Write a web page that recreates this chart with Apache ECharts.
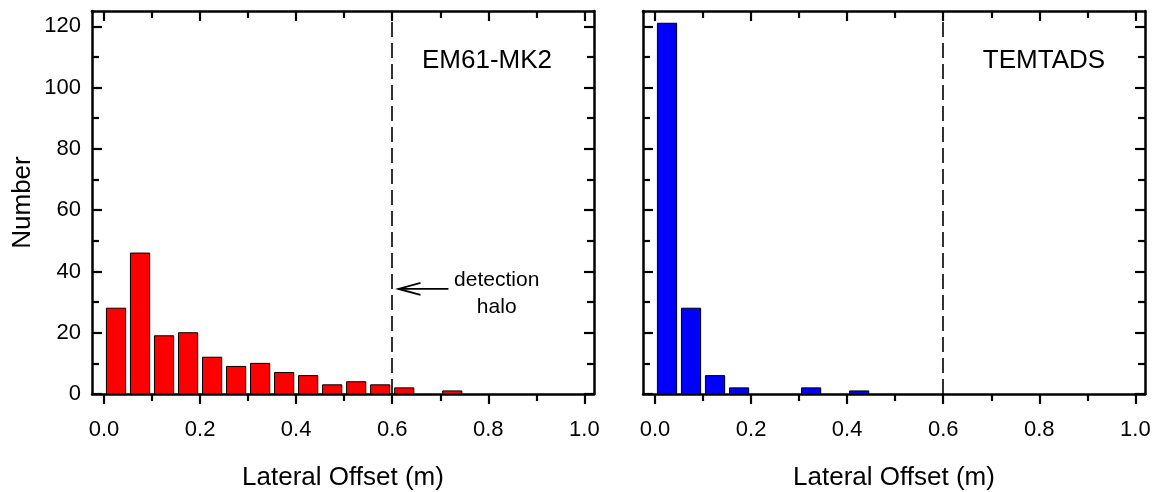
<!DOCTYPE html>
<html>
<head>
<meta charset="utf-8">
<script src="https://cdn.jsdelivr.net/npm/echarts@6/dist/echarts.min.js"></script>
<style>
  html, body { margin: 0; padding: 0; background: #fff; }
  #chart { width: 1155px; height: 492px; }
</style>
</head>
<body>
<div id="chart"></div>
<script>
// ---- data ----
const binCenters = [0.025, 0.075, 0.125, 0.175, 0.225, 0.275, 0.325, 0.375, 0.425, 0.475, 0.525, 0.575, 0.625, 0.675, 0.725];
const em61Counts = [28, 46, 19, 20, 12, 9, 10, 7, 6, 3, 4, 3, 2, 0, 1];
const temtadsCounts = [121, 28, 6, 2, 0, 0, 2, 0, 1, 0, 0, 0, 0, 0, 0];
const panelTitles = ['EM61-MK2', 'TEMTADS'];
const haloOffset = 0.6;
const xMajorTicks = [0.0, 0.2, 0.4, 0.6, 0.8, 1.0];
const xMinorTicks = [0.1, 0.3, 0.5, 0.7, 0.9];
const yMajorTicks = [0, 20, 40, 60, 80, 100, 120];
const yMinorTicks = [10, 30, 50, 70, 90, 110];
const xAxisTitle = 'Lateral Offset (m)';
const yAxisTitle = 'Number';
const annotationText = ['detection', 'halo'];

// ---- layout / style ----
const FONT = '"Liberation Sans", Arial, Helvetica, sans-serif';
const X_MIN = -0.025, X_MAX = 1.02;
const Y_MIN = 0, Y_MAX = 125;
const BAR_HALF = 0.02;
const grids = [
  { left: 92, top: 11, width: 502, height: 383, containLabel: false, outerBoundsMode: 'none' },
  { left: 643, top: 11, width: 502, height: 383, containLabel: false, outerBoundsMode: 'none' }
];
const colors = ['#ff0000', '#0000ff'];

const xAxes = [], yAxes = [];
function xAxis(g, pos, vals, len, inside, labels, line, name) {
  return {
    type: 'value', gridIndex: g, position: pos, min: X_MIN, max: X_MAX,
    axisLine: { show: line, onZero: false, lineStyle: { color: '#000', width: 2.5 } },
    axisTick: { show: true, inside: inside, length: len, customValues: vals, lineStyle: { color: '#000', width: 2.2 } },
    axisLabel: { show: labels, customValues: vals, formatter: v => v.toFixed(1), margin: 25,
                 fontFamily: FONT, fontSize: 22, color: '#000' },
    splitLine: { show: false },
    name: name || '', nameLocation: 'middle', nameGap: 71,
    nameTextStyle: { fontFamily: FONT, fontSize: 26, color: '#000' }
  };
}
function yAxis(g, pos, vals, len, inside, labels, line, name) {
  return {
    type: 'value', gridIndex: g, position: pos, min: Y_MIN, max: Y_MAX,
    axisLine: { show: line, onZero: false, lineStyle: { color: '#000', width: 2.5 } },
    axisTick: { show: true, inside: inside, length: len, customValues: vals, lineStyle: { color: '#000', width: 2.2 } },
    axisLabel: { show: labels, customValues: vals, margin: 11,
                 fontFamily: FONT, fontSize: 22, color: '#000' },
    splitLine: { show: false },
    name: name || '', nameLocation: 'middle', nameGap: 56, nameRotate: 90,
    nameTextStyle: { fontFamily: FONT, fontSize: 26, color: '#000' }
  };
}
for (let g = 0; g < 2; g++) {
  xAxes.push(xAxis(g, 'bottom', xMajorTicks, 10, false, true, true, xAxisTitle));
  xAxes.push(xAxis(g, 'bottom', xMinorTicks, 7, false, false, false));
  xAxes.push(xAxis(g, 'top', xMajorTicks, 10, true, false, true));
  xAxes.push(xAxis(g, 'top', xMinorTicks, 7, true, false, false));
  yAxes.push(yAxis(g, 'left', yMajorTicks, 10, true, g === 0, true, g === 0 ? yAxisTitle : ''));
  yAxes.push(yAxis(g, 'left', yMinorTicks, 7, true, false, false));
  yAxes.push(yAxis(g, 'right', yMajorTicks, 10, true, false, true));
  yAxes.push(yAxis(g, 'right', yMinorTicks, 7, true, false, false));
}

function barSeries(g, counts) {
  return {
    type: 'custom', xAxisIndex: g * 4, yAxisIndex: g * 4,
    data: binCenters.map((c, i) => [c, counts[i]]),
    encode: { x: 0, y: 1 },
    silent: true, animation: false, clip: true,
    renderItem: function (params, api) {
      const c = api.value(0), v = api.value(1);
      if (!v) return null;
      const a = api.coord([c - BAR_HALF, v]);
      const b = api.coord([c + BAR_HALF, 0]);
      return {
        type: 'rect',
        shape: { x: a[0], y: a[1], width: b[0] - a[0], height: b[1] - a[1] },
        style: { fill: colors[g], stroke: '#000', lineWidth: 1 }
      };
    }
  };
}
function haloSeries(g) {
  return {
    type: 'line', xAxisIndex: g * 4, yAxisIndex: g * 4, data: [],
    silent: true, animation: false,
    markLine: {
      symbol: ['none', 'none'], silent: true, animation: false,
      label: { show: false },
      lineStyle: { color: '#000', width: 1.6, type: [15, 6] },
      data: [{ xAxis: haloOffset }]
    }
  };
}
const arrowSeries = {
  type: 'custom', xAxisIndex: 0, yAxisIndex: 0,
  data: [[haloOffset, 34.3]], encode: { x: 0, y: 1 },
  silent: true, animation: false,
  renderItem: function (params, api) {
    const tip = api.coord([api.value(0) + 0.013, api.value(1)]);
    const tail = api.coord([api.value(0) + 0.117, api.value(1)]);
    const txt = api.coord([api.value(0) + 0.2175, api.value(1)]);
    return {
      type: 'group',
      children: [
        { type: 'line', shape: { x1: tip[0], y1: tip[1], x2: tail[0], y2: tail[1] },
          style: { stroke: '#000', lineWidth: 1.8 } },
        { type: 'polyline', shape: { points: [[tip[0] + 22, tip[1] - 6], [tip[0], tip[1]], [tip[0] + 22, tip[1] + 6]] },
          style: { stroke: '#000', lineWidth: 1.8, fill: null } },
        { type: 'text', x: txt[0], y: txt[1] - 9,
          style: { text: annotationText[0], font: '21px ' + FONT, fill: '#000', align: 'center', verticalAlign: 'middle' } },
        { type: 'text', x: txt[0], y: txt[1] + 18,
          style: { text: annotationText[1], font: '21px ' + FONT, fill: '#000', align: 'center', verticalAlign: 'middle' } }
      ]
    };
  }
};

const chart = echarts.init(document.getElementById('chart'), null, { renderer: 'canvas' });
chart.setOption({
  backgroundColor: '#fff',
  animation: false,
  grid: grids,
  xAxis: xAxes,
  yAxis: yAxes,
  graphic: [
    { type: 'text', x: 487, y: 61, style: { text: panelTitles[0], font: '26px ' + FONT, fill: '#000', align: 'center', verticalAlign: 'middle' } },
    { type: 'text', x: 1044, y: 61, style: { text: panelTitles[1], font: '26px ' + FONT, fill: '#000', align: 'center', verticalAlign: 'middle' } }
  ],
  series: [
    barSeries(0, em61Counts), barSeries(1, temtadsCounts),
    haloSeries(0), haloSeries(1), arrowSeries
  ]
});
</script>
</body>
</html>
